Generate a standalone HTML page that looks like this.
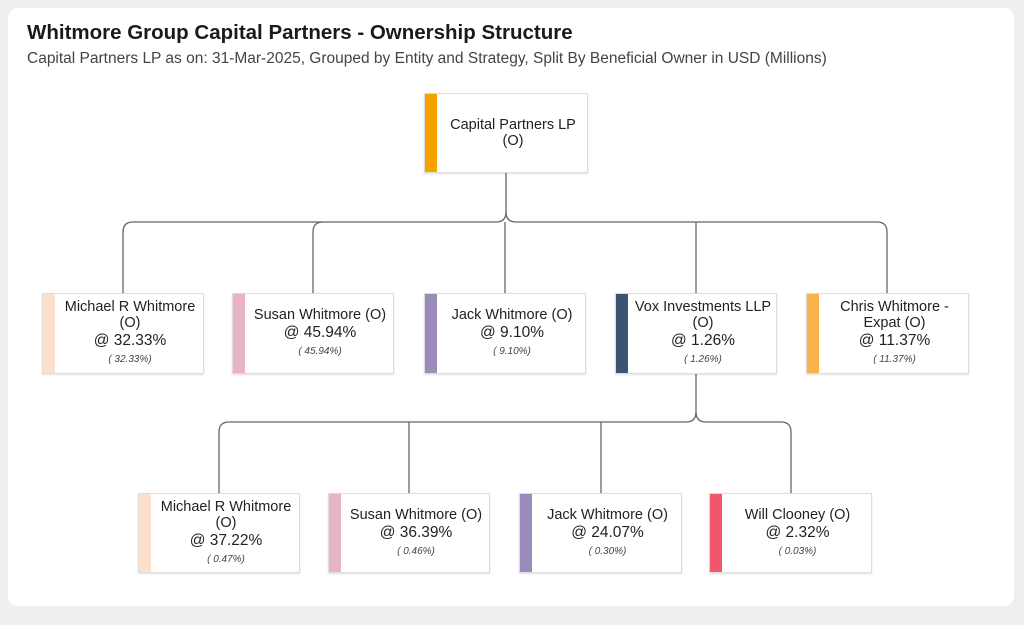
<!DOCTYPE html>
<html><head><style>
body{margin:0;width:1024px;height:625px;background:#efeff2;font-family:"Liberation Sans",sans-serif;position:relative;overflow:hidden}
.card{position:absolute;left:8px;top:8px;width:1006px;height:598px;background:#fff;border-radius:10px}
.t{position:absolute;left:27px;top:21px;font-size:20.5px;font-weight:bold;color:#1a1a1a}
.s{position:absolute;left:27px;top:50px;font-size:15.5px;color:#444}
.b{position:absolute;width:162px;height:80px;background:#fff;border:1px solid #ddd;box-shadow:0 1px 2px rgba(0,0,0,.12);box-sizing:border-box;display:flex;flex-direction:column;justify-content:center;align-items:center;text-align:center;padding-left:14px;color:#222;font-size:14.5px;line-height:16px}
.b i.bar{position:absolute;left:0;top:0;bottom:0;width:12px}
.p{font-size:15.5px;line-height:19px}
.m{font-size:10px;font-style:italic;color:#444;margin-top:2px}
</style></head><body>
<div class="card"></div>
<div class="t">Whitmore Group Capital Partners - Ownership Structure</div>
<div class="s">Capital Partners LP as on: 31-Mar-2025, Grouped by Entity and Strategy, Split By Beneficial Owner in USD (Millions)</div>
<svg style="position:absolute;left:0;top:0" width="1024" height="625" fill="none" stroke="#666" stroke-width="1.3">
<path d="M506 173V212Q506 222 496 222H133Q123 222 123 232V293"/>
<path d="M506 212Q506 222 516 222H877Q887 222 887 232V293"/>
<path d="M313 293V232Q313 222 323 222M505 222V293M696 222V293M877 222"/>
<path d="M696 374V412Q696 422 686 422H229Q219 422 219 432V493"/>
<path d="M696 412Q696 422 706 422H781Q791 422 791 432V493"/>
<path d="M409 422V493M601 422V493"/>
</svg>
<div class="b" style="left:424px;top:93px;width:164px"><i class="bar" style="background:#f7a200"></i>Capital Partners LP<br>(O)</div>

<div class="b" style="left:42px;top:293px;height:81px"><i class="bar" style="background:#fde0cc"></i>Michael R Whitmore<br>(O)<div class="p">@ 32.33%</div><div class="m">( 32.33%)</div></div>
<div class="b" style="left:232px;top:293px;height:81px"><i class="bar" style="background:#e8b3c6"></i>Susan Whitmore (O)<div class="p">@ 45.94%</div><div class="m">( 45.94%)</div></div>
<div class="b" style="left:424px;top:293px;height:81px"><i class="bar" style="background:#9a8bbd"></i>Jack Whitmore (O)<div class="p">@ 9.10%</div><div class="m">( 9.10%)</div></div>
<div class="b" style="left:615px;top:293px;height:81px"><i class="bar" style="background:#3b5471"></i>Vox Investments LLP<br>(O)<div class="p">@ 1.26%</div><div class="m">( 1.26%)</div></div>
<div class="b" style="left:806px;top:293px;height:81px;width:163px"><i class="bar" style="background:#f8b34c"></i>Chris Whitmore -<br>Expat (O)<div class="p">@ 11.37%</div><div class="m">( 11.37%)</div></div>

<div class="b" style="left:138px;top:493px"><i class="bar" style="background:#fde0cc"></i>Michael R Whitmore<br>(O)<div class="p">@ 37.22%</div><div class="m">( 0.47%)</div></div>
<div class="b" style="left:328px;top:493px"><i class="bar" style="background:#e8b3c6"></i>Susan Whitmore (O)<div class="p">@ 36.39%</div><div class="m">( 0.46%)</div></div>
<div class="b" style="left:519px;top:493px;width:163px"><i class="bar" style="background:#9a8bbd"></i>Jack Whitmore (O)<div class="p">@ 24.07%</div><div class="m">( 0.30%)</div></div>
<div class="b" style="left:709px;top:493px;width:163px"><i class="bar" style="background:#f2566a"></i>Will Clooney (O)<div class="p">@ 2.32%</div><div class="m">( 0.03%)</div></div>
</body></html>
